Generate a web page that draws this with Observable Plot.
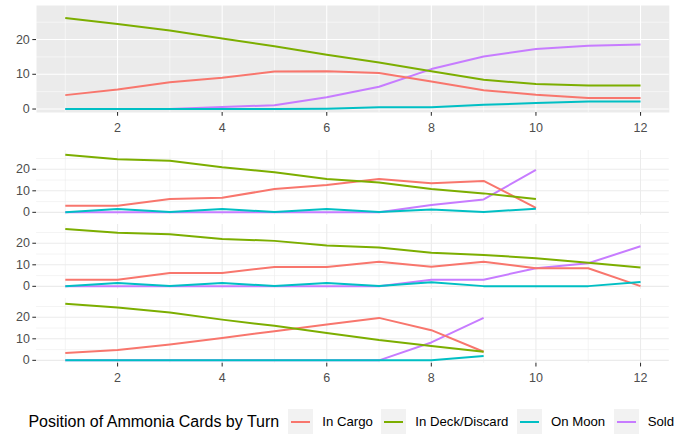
<!DOCTYPE html>
<html><head><meta charset="utf-8">
<script src="https://cdn.jsdelivr.net/npm/d3@7"></script>
<script src="https://cdn.jsdelivr.net/npm/@observablehq/plot@0.6"></script>
<style>
body{margin:0;background:#fff;font-family:"Liberation Sans",Arial,sans-serif;}
#wrap{position:relative;width:695px;height:435px;overflow:hidden;background:#fff;}
.panel{position:absolute;left:0;}
#legend{position:absolute;left:8px;top:409px;width:695px;height:25px;display:flex;align-items:center;justify-content:center;color:#000;}
#legend .title{font-size:16px;margin-right:9px;}
#legend .key{width:25px;height:25px;background:#F2F2F2;position:relative;}
#legend .key span{position:absolute;left:3px;right:3px;top:11.5px;height:2px;}
#legend .lab{font-size:13.2px;margin-left:9px;margin-right:8.5px;}
</style></head><body><div id="wrap"><div id="legend"></div></div>
<script>
const categories = ["In Cargo", "In Deck/Discard", "On Moon", "Sold"];
const colors = ["#F8766D", "#7CAE00", "#00BFC4", "#C77CFF"];
const xTicks = [2, 4, 6, 8, 10, 12];
const xMinor = [1, 3, 5, 7, 9, 11];
const yTicks = [0, 10, 20];
const yMinor = [5, 15, 25];
const legendTitle = "Position of Ammonia Cards by Turn";

// Panel 1 (top, grey background) – turns 1..12
const turns1 = [1, 2, 3, 4, 5, 6, 7, 8, 9, 10, 11, 12];
const cargo1 = [4.0, 5.6, 7.7, 9.0, 10.8, 10.9, 10.4, 7.9, 5.4, 4.1, 3.2, 3.2];
const deck1  = [26.2, 24.5, 22.6, 20.3, 18.1, 15.6, 13.4, 10.9, 8.4, 7.2, 6.8, 6.8];
const moon1  = [0, 0, 0, 0, 0, 0.1, 0.5, 0.5, 1.2, 1.7, 2.2, 2.2];
const sold1  = [0, 0, 0, 0.6, 1.1, 3.4, 6.4, 11.5, 15.1, 17.3, 18.2, 18.6];

// Panel 2 – turns 1..10
const turns2 = [1, 2, 3, 4, 5, 6, 7, 8, 9, 10];
const cargo2 = [3.1, 3.1, 6.2, 6.8, 10.8, 12.7, 15.5, 13.5, 14.6, 2.1];
const deck2  = [26.7, 24.6, 23.9, 20.9, 18.6, 15.5, 13.9, 10.8, 8.8, 6.2];
const moon2  = [0, 1.5, 0.2, 1.5, 0.2, 1.5, 0.2, 1.3, 0.2, 1.7];
const sold2  = [0, 0, 0, 0, 0, 0, 0, 3.4, 6.0, 19.7];

// Panel 3 – turns 1..12
const turns3 = [1, 2, 3, 4, 5, 6, 7, 8, 9, 10, 11, 12];
const cargo3 = [3.1, 3.1, 6.2, 6.2, 9.0, 9.0, 11.4, 9.1, 11.4, 8.4, 8.4, 0.1];
const deck3  = [26.6, 24.9, 24.2, 22.0, 21.1, 18.9, 18.0, 15.6, 14.6, 13.0, 11.0, 8.8];
const moon3  = [0, 1.5, 0.2, 1.5, 0.2, 1.5, 0.2, 1.9, 0.1, 0.1, 0.1, 2.0];
const sold3  = [0, 0, 0, 0, 0, 0, 0, 3.1, 3.1, 8.4, 10.7, 18.6];

// Panel 4 – turns 1..9
const turns4 = [1, 2, 3, 4, 5, 6, 7, 8, 9];
const cargo4 = [3.4, 4.8, 7.4, 10.4, 13.5, 16.6, 19.7, 14.0, 4.0];
const deck4  = [26.3, 24.5, 22.2, 18.9, 16.0, 12.7, 9.4, 6.7, 4.0];
const moon4  = [0, 0, 0, 0, 0, 0, 0, 0, 2.0];
const sold4  = [0, 0, 0, 0, 0, 0, 0, 8.3, 19.7];

function table(turns, cargo, deck, moon, sold) {
  const rows = [];
  // Sold drawn first (beneath), then legend order
  const order = [["Sold", sold], ["In Cargo", cargo], ["In Deck/Discard", deck], ["On Moon", moon]];
  for (const [s, vals] of order) turns.forEach((t, i) => rows.push({turn: t, series: s, value: vals[i]}));
  return rows;
}

const wrap = document.getElementById("wrap");
const fontStyle = {fontFamily: "'Liberation Sans', Arial, sans-serif", fontSize: "12.5px", background: "transparent", overflow: "visible"};

function panel({data, top, height, mt, mb, yDomain, bg, xAxis}) {
  const grid = bg ? "#FFFFFF" : "#EBEBEB";
  const marks = [];
  if (bg) marks.push(Plot.frame({fill: bg, stroke: "none"}));
  marks.push(
    Plot.ruleX(xMinor, {stroke: grid, strokeWidth: 0.55}),
    Plot.ruleY(yMinor, {stroke: grid, strokeWidth: 0.55}),
    Plot.ruleX(xTicks, {stroke: grid, strokeWidth: 1.07}),
    Plot.ruleY(yTicks, {stroke: grid, strokeWidth: 1.07}),
    Plot.line(data, {x: "turn", y: "value", stroke: "series", z: "series", strokeWidth: 2, strokeLinejoin: "round", strokeLinecap: "butt"}),
    Plot.axisY(yTicks, {tickSize: 3.7, tickPadding: 3, stroke: "#333333", fill: "#4D4D4D", label: null, strokeWidth: 1.07})
  );
  if (xAxis) marks.push(Plot.axisX(xTicks, {tickSize: 3.7, tickPadding: 6.5, stroke: "#333333", fill: "#4D4D4D", label: null, strokeWidth: 1.07}));
  const chart = Plot.plot({
    width: 695, height,
    marginLeft: 36, marginRight: 26.2, marginTop: mt, marginBottom: mb,
    x: {domain: [0.45, 12.55], axis: null},
    y: {domain: yDomain, axis: null},
    color: {domain: categories, range: colors},
    style: fontStyle,
    marks
  });
  chart.classList.add("panel");
  chart.style.top = top + "px";
  wrap.appendChild(chart);
}

panel({data: table(turns1, cargo1, deck1, moon1, sold1), top: 0, height: 140, mt: 5, mb: 28, yDomain: [-1, 29.8], bg: "#EBEBEB", xAxis: true});

const lowDomain = [-1.35, 28.7];
const pxPerUnit = 2.155;
const ph = (lowDomain[1] - lowDomain[0]) * pxPerUnit;
const zeros = [212.3, 286.3, 360.3];
const lowData = [
  table(turns2, cargo2, deck2, moon2, sold2),
  table(turns3, cargo3, deck3, moon3, sold3),
  table(turns4, cargo4, deck4, moon4, sold4)
];
lowData.forEach((d, i) => {
  const last = i === 2;
  const top = zeros[i] - lowDomain[1] * pxPerUnit - 5;
  const mb = last ? 30 : 5;
  panel({data: d, top, height: 5 + ph + mb, mt: 5, mb, yDomain: lowDomain, bg: null, xAxis: last});
});

// legend
const legend = document.getElementById("legend");
const t = document.createElement("div");
t.className = "title"; t.textContent = legendTitle;
legend.appendChild(t);
categories.forEach((c, i) => {
  const k = document.createElement("div");
  k.className = "key";
  const ln = document.createElement("span");
  ln.style.background = colors[i];
  k.appendChild(ln);
  legend.appendChild(k);
  const l = document.createElement("div");
  l.className = "lab"; l.textContent = c;
  legend.appendChild(l);
});
</script></body></html>
